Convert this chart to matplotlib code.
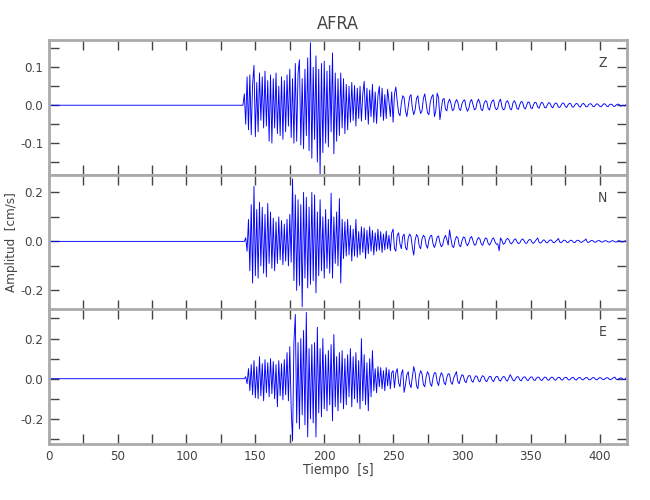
import numpy as np
import matplotlib
matplotlib.use('Agg')
import matplotlib.pyplot as plt
from matplotlib.ticker import MultipleLocator, FormatStrFormatter

plt.rcParams['font.family'] = ['DejaVu Sans']
plt.rcParams['font.stretch'] = 'condensed'
plt.rcParams['axes.unicode_minus'] = False

station = 'AFRA'
components = ['Z', 'N', 'E']

# amplitudes in 1e-3 cm/s, one sample per second from the onset to 420 s
z_start = 141
z_amp = [0, 30, -50, 75, -65, 80, -78, 55, 105, -83,
         60, -70, 85, -40, 75, -60, 90, -55, 65, -95,
         80, -100, 70, -60, 85, -75, 50, -80, 75, -90,
         65, -70, 80, -55, 95, -85, 70, -100, 110, -95,
         85, 120, -105, 70, -115, 95, -80, 125, -120, 165,
         -140, 100, -90, 130, -150, 95, -185, 110, -125, 116,
         -100, 90, -110, 105, -70, 138, -128, 85, -95, 70,
         -80, 85, -60, 70, -75, 55, -65, 50, -45, 60,
         -40, 52, -55, 45, -35, 50, -42, 30, 63, -38,
         45, -50, 40, -30, 55, -45, 35, -48, 25, 50,
         -30, 45, -40, 28, -35, 42, 10, -30, 35, -45,
         30, 48, 10, -20, -28, 5, 25, 20, -15, -30,
         -5, 22, 28, -8, -25, -12, 18, 25, -5, -22,
         -15, 18, 30, 5, -20, -25, 8, 22, 28, -30,
         -15, 32, 20, -38, -10, 15, 18, -10, -15, 8,
         16, 5, -14, -12, 6, 15, 8, -10, -14, 4,
         12, 14, -6, -16, -8, 10, 15, 2, -12, -10,
         8, 16, 6, -12, -14, 4, 12, 10, -8, -13,
         3, 12, 14, -6, -12, -8, 10, 16, -4, -12,
         -10, 8, 12, 4, -10, -12, 6, 12, 5, -9,
         -11, 2, 10, 8, -6, -10, 0, 9, 7, -7,
         -9, 2, 8, 6, -5, -8, 3, 8, 4, -6,
         -7, 1, 7, 5, -4, -7, 2, 6, 4, -5,
         -6, 0, 6, 5, -3, -6, 1, 5, 4, -4,
         -5, 1, 5, 3, -3, -5, 2, 5, 2, -4,
         -4, 2, 4, 3, -3, -4, 1, 4, 2, -3,
         -4, 0, 4, 3, -2, -4, 1, 3, 2, -3,
         -3, 1, 3, 2, -2, -2, 0, -2, 1, 0]

n_start = 142
n_amp = [0, 15, -40, 90, -120, 150, -170, 225, -140, 130,
         -150, 160, -100, 140, -130, 110, -145, 155, -90, 120,
         -110, 95, -120, 80, -90, 100, -75, 85, -95, 70,
         -80, 90, -100, 110, -85, 255, -160, 190, -200, 170,
         -180, 150, -267, 200, -150, 180, -190, 140, -175, 200,
         -160, 190, -210, 120, -140, 170, -120, 100, -150, 130,
         -110, 90, -130, 197, -150, 100, -90, 120, -100, 175,
         -170, 90, -70, 80, -60, 90, -55, 65, -80, 50,
         -60, 90, -65, 40, -55, 60, -45, 55, -70, 45,
         -50, 60, -40, 45, -55, 35, -40, 50, -35, 40,
         -45, 30, -35, 42, -30, 25, -38, 35, 50, -30,
         -40, 25, 35, -10, -30, 20, 30, -25, -35, 15,
         30, 20, -25, -56, 5, 28, 20, -20, -30, 10,
         25, 18, -15, -28, 5, 22, 25, -10, -25, -8,
         18, 22, -5, -22, -15, 12, 25, 8, -15, 47,
         10, -20, -25, 5, 20, 15, -15, -22, 2, 18,
         16, -8, -18, -6, 14, 20, 2, -15, -14, 6,
         16, 10, -10, -16, 0, 14, 12, -8, -15, -5,
         10, 14, -2, -12, -10, -38, 14, 4, -12, -8,
         6, 12, 8, -6, -10, -2, 8, 10, -2, -9,
         -6, 5, 10, 4, -7, -8, 2, 8, 6, -5,
         -8, 0, 7, 14, -4, -7, -2, 6, 5, -4,
         -6, 1, 6, 5, -3, -6, 0, 5, 12, -3,
         -5, 0, 5, 4, -3, -5, 1, 5, 3, -4,
         -5, 2, 5, 3, -3, -4, 1, 4, 10, -3,
         -4, 0, 4, 3, -2, -4, 1, 3, 3, -2,
         -3, 1, 3, 2, -2, -3, 0, 3, 2, -2,
         -3, 1, 3, 1, -2, -2, 1, 2, 0]

e_start = 142
e_amp = [0, 10, -25, 50, -60, 70, -80, 90, -95, 60,
         -100, 110, -85, 75, -110, 95, -70, 80, -90, 100,
         -75, 85, -100, 70, -140, 90, -85, 75, -105, 95,
         -80, 130, -110, 160, -150, -310, 180, 320, -220, 180,
         -250, 200, -180, 240, -230, 330, -290, 150, -200, 170,
         -220, 180, -290, 256, -170, 150, -190, 200, -150, 120,
         -160, 140, -130, 170, -210, 220, -140, 110, -160, 130,
         -120, 140, -150, 100, -130, 120, -90, 150, -140, 110,
         -100, 130, -120, 90, -150, 200, -110, 120, -130, 80,
         -160, 100, -90, 140, -60, 50, -70, 60, -40, 55,
         -50, 40, -60, 55, -35, 45, -50, 30, 40, -45,
         30, 50, -20, -40, 25, 45, -68, -30, 20, 35,
         -25, -45, 10, 60, 30, -35, -50, 15, 40, 25,
         -30, -40, 10, 35, 20, -25, -38, 5, 30, 28,
         -15, -35, 8, 30, 18, -20, -30, 6, 25, 22,
         -18, -28, 4, 20, 35, -15, -25, 3, 20, 15,
         -12, -20, 5, 16, 14, -10, -18, 2, 14, 12,
         -10, -16, 4, 15, 10, -9, -15, 0, 12, 11,
         -8, -14, 3, 12, 10, -8, -12, 2, 11, 9,
         -7, -12, 4, 20, 8, -7, -11, 1, 10, 9,
         -6, -11, 2, 9, 8, -5, -10, 1, 9, 8,
         -6, -9, 2, 8, 7, -5, -9, 0, 8, 7,
         -5, -8, 1, 8, 6, -4, -8, 1, 7, 6,
         -5, -7, 2, 7, 6, -4, -7, 0, 6, 6,
         -4, -7, 1, 6, 5, -4, -6, 1, 6, 5,
         -4, -6, 0, 6, 5, -3, -6, 1, 5, 4,
         -3, -5, 1, 5, 4, -3, -5, 0, 5, 8,
         -3, -5, 1, 4, 3, -3, -4, 2, 6]

starts = [z_start, n_start, e_start]
traces = [z_amp, n_amp, e_amp]
ylims = [(-0.184, 0.172), (-0.28, 0.271), (-0.325, 0.347)]
ymajor = [0.1, 0.2, 0.2]
yminor = [0.05, 0.1, 0.1]

grey = '#444444'
frame = '#aaaaaa'

fig = plt.figure(figsize=(6.5, 5), dpi=100)
left, width = 0.075, 0.89
bottoms = [0.65, 0.38, 0.112]
height = 0.27

for k in range(3):
    ax = fig.add_axes([left, bottoms[k], width, height])
    t = np.concatenate(([0], np.arange(starts[k], 421)))
    y = np.concatenate(([0], np.array(traces[k]) * 1e-3))
    ax.plot(t, y, color='#0000ff', lw=0.65)
    ax.set_xlim(0, 420)
    ax.set_ylim(*ylims[k])
    ax.xaxis.set_major_locator(MultipleLocator(50))
    ax.xaxis.set_minor_locator(MultipleLocator(25))
    ax.yaxis.set_major_locator(MultipleLocator(ymajor[k]))
    ax.yaxis.set_minor_locator(MultipleLocator(yminor[k]))
    ax.yaxis.set_major_formatter(FormatStrFormatter('%.1f'))
    ax.tick_params(which='both', direction='in', top=True, right=True,
                   length=7, width=1, color=grey, labelcolor=grey,
                   labelsize=9.5, pad=4)
    for s in ax.spines.values():
        s.set_color(frame)
        s.set_linewidth(2)
    if k < 2:
        ax.tick_params(labelbottom=False)
    ax.text(0.965, 0.83, components[k], transform=ax.transAxes,
            ha='right', va='center', color=grey, fontsize=10)
    if k == 0:
        ax.set_title(station, color=grey, fontsize=13, pad=8)

fig.text(0.018, 0.515, 'Amplitud  [cm/s]', rotation=90, ha='center',
         va='center', color=grey, fontsize=9.5)
fig.text(0.52, 0.06, 'Tiempo  [s]', ha='center', va='center',
         color=grey, fontsize=10)

plt.savefig('out.png', dpi=100)
